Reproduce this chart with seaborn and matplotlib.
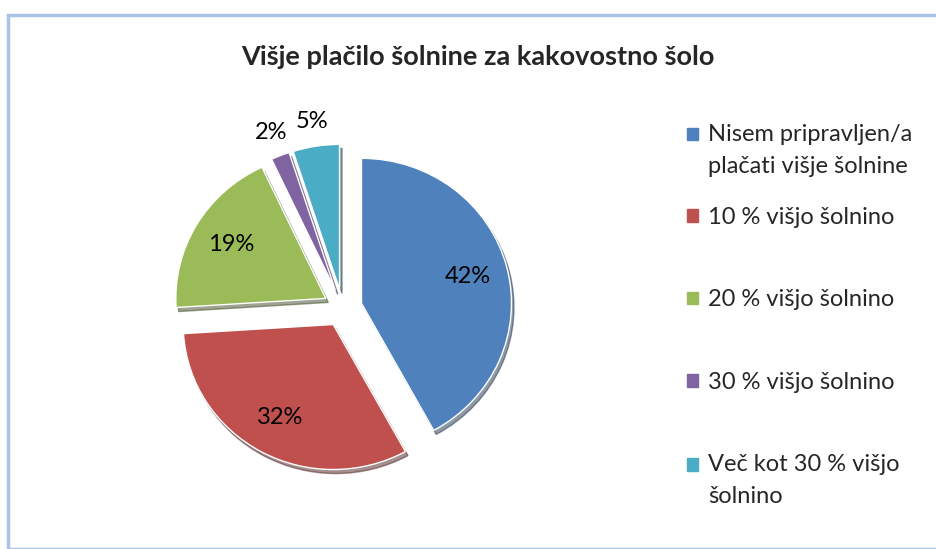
import matplotlib
matplotlib.use("Agg")
import matplotlib.pyplot as plt
import matplotlib.patches as mpatches
from matplotlib.legend_handler import HandlerPatch
import numpy as np
import seaborn as sns

# data
labels = ["Nisem pripravljen/a\nplačati višje šolnine", "10 % višjo šolnino",
          "20 % višjo šolnino", "30 % višjo šolnino", "Več kot 30 % višjo\nšolnino"]
values = [42, 32, 19, 2, 5]
colors = ["#4F81BD", "#C0504D", "#9BBB59", "#8064A2", "#4BACC6"]
title = "Višje plačilo šolnine za kakovostno šolo"

sns.set_theme(style="white")
plt.rcParams['font.family'] = ['Lato', 'DejaVu Sans']

fig = plt.figure(figsize=(9.37, 5.49), dpi=100)
W, H = 937, 549

# window-like frame
frame = mpatches.Rectangle((8 / W, 0), 1, 1 - 15 / H, transform=fig.transFigure,
                           fill=False, edgecolor="#A9C4E6", linewidth=2.5)
fig.patches.append(frame)

# pie axes: centre ~ (343, 308) px, radius ~150 px wide, a bit flatter in height
Rx, Ry = 150, 145
cx, cy = 342.6, H - 308
ax = fig.add_axes([(cx - 1.25 * Rx) / W, (cy - 1.25 * Ry) / H,
                   2.5 * Rx / W, 2.5 * Ry / H])

wedges, texts, autotexts = ax.pie(
    values, colors=sns.color_palette(colors), startangle=90, counterclock=False,
    explode=[0.13] * len(values), autopct="%1.0f%%", pctdistance=0.73,
    shadow={"ox": 0.012, "oy": -0.02, "shade": 0.6},
    textprops={"fontsize": 17, "color": "black"},
)
for w, t in zip(wedges, autotexts):
    frac = (w.theta2 - w.theta1) / 360
    if frac < 0.1:
        ang = np.deg2rad((w.theta1 + w.theta2) / 2)
        t.set_position((1.3 * np.cos(ang), 1.3 * np.sin(ang)))
ax.set_xlim(-1.25, 1.25)
ax.set_ylim(-1.25, 1.25)
ax.set_aspect("auto")
ax.axis("off")

fig.text(478 / W, 1 - 57 / H, title, ha="center", va="center",
         fontsize=19.5, fontweight="bold")


# square sits on the first line of a two-line label
def top_square(legend, orig_handle, xdescent, ydescent, width, height, fontsize):
    return mpatches.Rectangle((-xdescent, -ydescent + 0.7 * fontsize), width, height)


handles = [mpatches.Patch(color=c) for c in colors]
hmap = {h: HandlerPatch(patch_func=top_square) for h, l in zip(handles, labels) if "\n" in l}
kw = dict(loc="upper left", frameon=False, fontsize=17, labelspacing=2.6,
          handlelength=0.45, handleheight=0.45, handletextpad=0.45,
          borderpad=0, borderaxespad=0, handler_map=hmap)
leg1 = fig.legend(handles[:1], labels[:1], bbox_to_anchor=(687 / W, 1 - 124 / H), **kw)
leg2 = fig.legend(handles[1:], labels[1:], bbox_to_anchor=(687 / W, 1 - 207 / H), **kw)
for leg in (leg1, leg2):
    for t in leg.get_texts():
        t.set_linespacing(1.65)

fig.savefig("out.png", dpi=100)
